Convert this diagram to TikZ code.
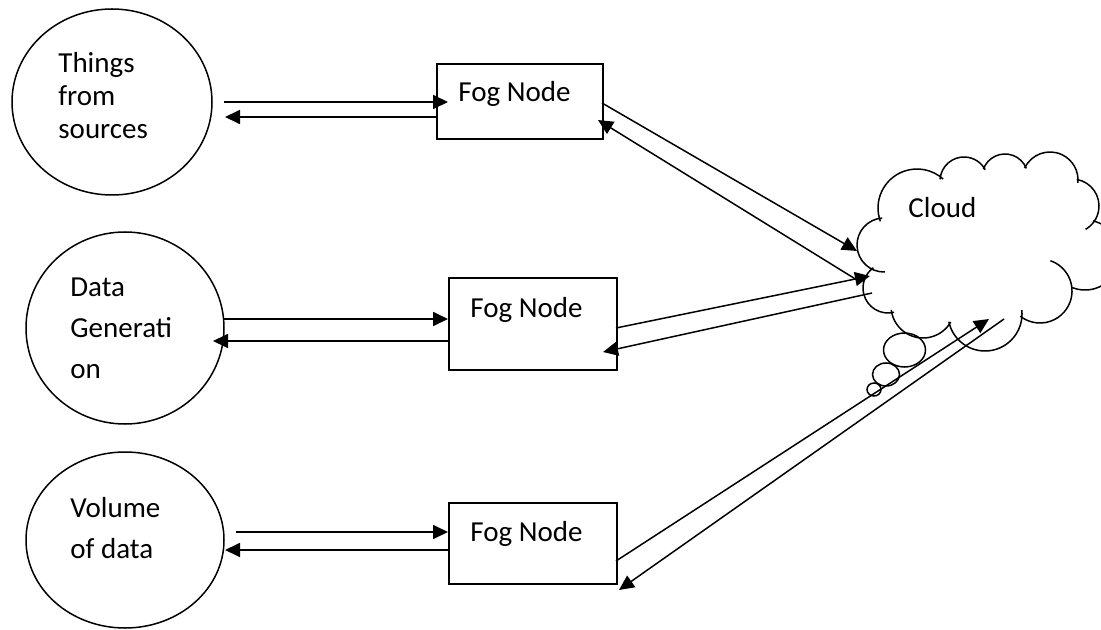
\documentclass[tikz,border=0pt]{standalone}
\usepackage{fontspec}
\setmainfont{Carlito}
\usetikzlibrary{arrows.meta,shapes.geometric}
\begin{document}
\begin{tikzpicture}[x=0.5pt,y=-0.5pt,
  arr/.style={line width=0.9pt,-{Triangle[length=7.5pt,width=7pt]}},
  hln/.style={line width=0.9pt},
  darr/.style={line width=0.75pt,-{Triangle[length=7.5pt,width=7pt]}},
  dln/.style={line width=0.75pt},
  ell/.style={draw,ellipse,line width=0.75pt,inner sep=0pt},
  fog/.style={draw,rectangle,line width=0.9pt,inner sep=0pt,anchor=north west},
  lbl/.style={inner sep=0pt,anchor=base west,font=\fontsize{14.5}{17}\selectfont},
  cl/.style={line width=0.75pt}]
\useasboundingbox (0,0) rectangle (1101,630);
\clip (0,0) rectangle (1101,630);
\fill[white] (0,0) rectangle (1101,630);

% source ellipses
\node[ell,minimum width=100pt,minimum height=93pt] (e1) at (112,102) {};
\node[ell,minimum width=99pt,minimum height=96pt] (e2) at (125,328) {};
\node[ell,minimum width=99pt,minimum height=88pt] (e3) at (125,540) {};
\node[lbl] (t1) at (58,73) {\fontsize{14.5}{16.5}\selectfont\begin{tabular}[t]{@{}l@{}}Things\\from\\sources\end{tabular}};
\node[lbl] (t2) at (70,297) {\fontsize{14.5}{20.4}\selectfont\begin{tabular}[t]{@{}l@{}}Data\\Generati\\on\end{tabular}};
\node[lbl] (t3) at (70,517) {\fontsize{14.5}{20.6}\selectfont\begin{tabular}[t]{@{}l@{}}Volume\\of data\end{tabular}};

% fog nodes
\node[fog,minimum width=83pt,minimum height=37.5pt] (f1) at (436,63) {};
\node[fog,minimum width=84pt,minimum height=46pt] (f2) at (448,277) {};
\node[fog,minimum width=84pt,minimum height=40.5pt] (f3) at (448,502) {};
\node[lbl] (g1) at (458,102) {Fog Node};
\node[lbl] (g2) at (470,317) {Fog Node};
\node[lbl] (g3) at (470,541) {Fog Node};

% cloud
\coordinate (cloud) at (985,255);
\draw[cl] ([shift={(88:27)}]884,245) arc[start angle=88,end angle=266,radius=27];
\draw[cl] ([shift={(160:39)}]917,208) arc[start angle=160,end angle=312,radius=39];
\draw[cl] ([shift={(184:24)}]964,181) arc[start angle=184,end angle=332,radius=24];
\draw[cl] ([shift={(200:23)}]1005,177) arc[start angle=200,end angle=338,radius=23];
\draw[cl] ([shift={(205:28)}]1050,180) arc[start angle=205,end angle=366,radius=28];
\draw[cl] ([shift={(280:27)}]1072,206) arc[start angle=280,end angle=420,radius=27];
\draw[cl] ([shift={(283:35)}]1085,255) arc[start angle=283,end angle=472,radius=35];
\draw[cl] ([shift={(289:32)}]1040,291) arc[start angle=289,end angle=488,radius=32];
\draw[cl] ([shift={(-6:37)}]985,314) arc[start angle=-6,end angle=168,radius=37];
\draw[cl] ([shift={(30:32)}]923,306) arc[start angle=30,end angle=173,radius=32];
\draw[cl] ([shift={(76:25)}]888,288) arc[start angle=76,end angle=234,radius=25];
\draw[cl] (904.5,350) ellipse [x radius=21, y radius=17];
\draw[cl] (886,374.5) ellipse [x radius=13.5, y radius=11.5];
\draw[cl] (874,389.5) ellipse [x radius=7, y radius=6.5];
\node[lbl] (cloudtxt) at (908,218) {Cloud};

% connector end points
\coordinate (r1as) at (224,102); \coordinate (r1ae) at (448,102);
\coordinate (r1bs) at (436,117); \coordinate (r1be) at (225,117);
\coordinate (r2as) at (224,319); \coordinate (r2ae) at (448,319);
\coordinate (r2bs) at (448,341); \coordinate (r2be) at (213,341);
\coordinate (r3as) at (236,532); \coordinate (r3ae) at (448,532);
\coordinate (r3bs) at (448,550); \coordinate (r3be) at (225,550);
\coordinate (d1as) at (602,103); \coordinate (d1ae) at (857,251);
\coordinate (d1bs) at (857,280); \coordinate (d1be) at (598,120);
\coordinate (d2as) at (616,328); \coordinate (d2ae) at (870,276);
\coordinate (d2bs) at (872,293); \coordinate (d2be) at (603,352);
\coordinate (d3as) at (616,561); \coordinate (d3ae) at (989,319);
\coordinate (d3bs) at (1004,319); \coordinate (d3be) at (619,590);

\draw[arr] (r1as) -- (r1ae);
\draw[arr] (r1bs) -- (r1be);
\draw[arr] (r2as) -- (r2ae);
\draw[arr] (r2bs) -- (r2be);
\draw[arr] (r3as) -- (r3ae);
\draw[arr] (r3bs) -- (r3be);
\draw[darr] (d1as) -- (d1ae);
\draw[darr] (d1bs) -- (d1be);
\draw[darr] (d2as) -- (d2ae);
\draw[darr] (d2bs) -- (d2be);
\draw[darr] (d3as) -- (d3ae);
\draw[darr] (d3bs) -- (d3be);
\end{tikzpicture}
\end{document}
